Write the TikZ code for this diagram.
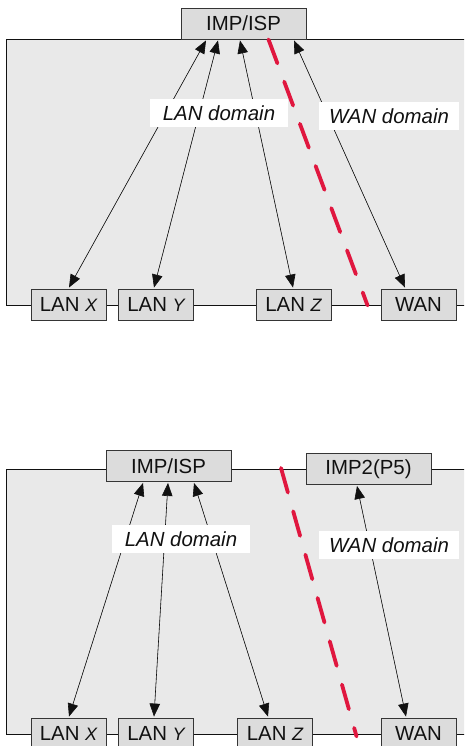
\documentclass[tikz,border=0pt]{standalone}
\usepackage{fontspec}
\setmainfont{Liberation Sans}
\usetikzlibrary{arrows.meta,calc}
\definecolor{panel}{HTML}{E9E9E9}
\definecolor{boxfill}{HTML}{DCDCDC}
\definecolor{redline}{HTML}{E0173F}
\definecolor{ink}{HTML}{111111}
\tikzset{
  panelbox/.style={draw=ink,fill=panel,line width=0.8pt},
  unitbox/.style={draw=ink!85,fill=boxfill,line width=0.9pt,minimum width=75pt,minimum height=31pt,inner sep=0pt,font=\fontsize{20.4}{24}\selectfont,text=ink},
  wideunit/.style={unitbox,minimum width=125pt},
  domainlabel/.style={fill=white,inner sep=0pt,minimum width=138pt,minimum height=28pt,font=\fontsize{20.4}{24}\selectfont\itshape,text=ink},
  link/.style={{Triangle[length=13pt,width=10.5pt]}-{Triangle[length=13pt,width=10.5pt]},line width=0.6pt,draw=ink,fill=ink},
  divider/.style={draw=redline,line width=3.8pt,line cap=round,dash pattern=on 25.5pt off 19.5pt},
}
\newcommand{\smallit}[1]{{\fontsize{18}{24}\selectfont\itshape #1}}
\begin{document}
\begin{tikzpicture}[x=1pt,y=-1pt]
\useasboundingbox (0,0) rectangle (464,746);
\clip (0,0) rectangle (464,746);
% upper panel
\draw[panelbox] (6.5,39.5) rectangle (480,305);
\node[wideunit] (imp) at (243.5,23.5) {IMP/ISP};
\node[unitbox] (lanx) at (68.5,304.5) {LAN \smallit{X}};
\node[unitbox] (lany) at (156,304.5) {LAN \smallit{Y}};
\node[unitbox] (lanz) at (293.5,304.5) {LAN \smallit{Z}};
\node[unitbox] (wan) at (418.5,304.5) {WAN};
\draw[link] ($(imp.south)+(-37.5,1)$) -- ($(lanx.north)+(0.5,-1)$);
\draw[link] ($(imp.south)+(-25.5,1)$) -- ($(lany.north)+(-2,-1)$);
\draw[link] ($(imp.south)+(-3.5,1)$) -- ($(lanz.north)+(-0.5,-1)$);
\draw[link] ($(imp.south)+(50.5,1)$) -- ($(wan.north)+(-13.5,-1)$);
\node[domainlabel] (landom) at (219,113) {LAN domain};
\node[domainlabel,minimum width=140pt] (wandom) at (389,116) {WAN domain};
\draw[divider] ($(imp.south)+(25,0)$) -- ($(wan.south west)+(-13,-15)$);
% lower panel
\draw[panelbox] (6.5,469) rectangle (480,734);
\node[wideunit] (impb) at (168.5,466) {IMP/ISP};
\node[wideunit] (impc) at (368.5,469) {IMP2(P5)};
\node[unitbox] (lanxb) at (68.5,733.5) {LAN \smallit{X}};
\node[unitbox] (lanyb) at (156,733.5) {LAN \smallit{Y}};
\node[unitbox] (lanzb) at (275,733.5) {LAN \smallit{Z}};
\node[unitbox] (wanb) at (418.5,733.5) {WAN};
\draw[link] ($(impb.south)+(-25.5,1)$) -- ($(lanxb.north)+(0.5,-1)$);
\draw[link] ($(impb.south)+(-0.5,1)$) -- ($(lanyb.north)+(-2,-1)$);
\draw[link] ($(impb.south)+(25.5,1)$) -- ($(lanzb.north)+(-7,-1)$);
\draw[link] ($(impc.south)+(-11.5,1)$) -- ($(wanb.north)+(-12.5,-1)$);
\node[domainlabel] (landomb) at (181,539) {LAN domain};
\node[domainlabel,minimum width=140pt] (wandomb) at (389,545) {WAN domain};
\draw[divider] (281,468) -- ($(wanb.south west)+(-24,-13)$);
\end{tikzpicture}
\end{document}
